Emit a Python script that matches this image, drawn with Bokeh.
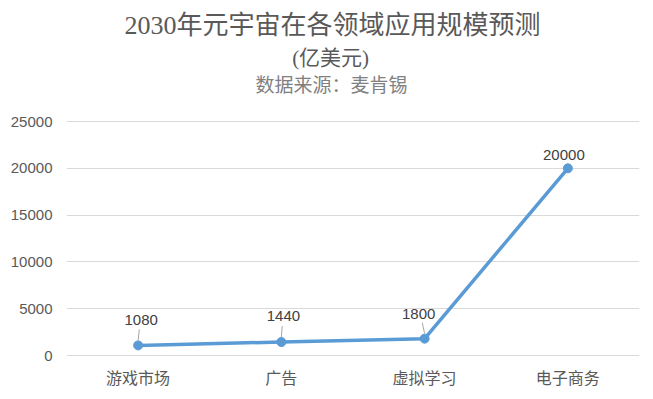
from bokeh.plotting import figure
from bokeh.layouts import column
from bokeh.models import Range1d, FixedTicker, ColumnDataSource
from bokeh.core.properties import value
from bokeh.embed import file_html
from bokeh.resources import INLINE

# ---- data ----
categories = ["游戏市场", "广告", "虚拟学习", "电子商务"]
values = [1080, 1440, 1800, 20000]
y_ticks = [0, 5000, 10000, 15000, 20000, 25000]
title_text = "2030年元宇宙在各领域应用规模预测"
unit_text = "(亿美元)"
source_text = "数据来源：麦肯锡"

# label offsets (px) for the data labels
label_dx = [3, 2, -6, -4]
label_dy = [-25, -26, -25, -13]

W, H = 653, 399
HT = 110                      # height of the heading strip
H2 = H - HT                   # height of the chart figure
BL, BR, BT, BB = 66, 14, 10, 43
frame_w = W - BL - BR
frame_h = H2 - BT - BB
ymax = 25000
pad = ymax / (frame_h - 2)    # one pixel of padding so edge gridlines show
xs = list(range(len(categories)))

# ---- heading strip (pixel coordinates, y downward) ----
t = figure(width=W, height=HT, output_backend="svg", toolbar_location=None,
           x_range=Range1d(0, W), y_range=Range1d(HT, 0),
           x_axis_location=None, y_axis_location=None,
           min_border_left=0, min_border_right=0, min_border_top=0, min_border_bottom=0,
           background_fill_color="white", border_fill_color="white")
t.grid.visible = False
t.outline_line_color = None
serif = "'Liberation Serif', 'Noto Sans CJK SC'"
t.text(x=[303], y=[24.5], text=[title_text], text_align="center", text_baseline="middle",
       text_color="#595959", text_font=value(serif), text_font_size="26px")
t.text(x=[301], y=[57.5], text=[unit_text], text_align="center", text_baseline="middle",
       text_color="#595959", text_font=value(serif), text_font_size="21px")
t.text(x=[302], y=[83], text=[source_text], text_align="center", text_baseline="middle",
       text_color="#808080", text_font=value("Noto Sans CJK SC"), text_font_size="19px")

# ---- chart ----
p = figure(width=W, height=H2, output_backend="svg", toolbar_location=None,
           x_range=Range1d(-0.5, len(categories) - 0.5), y_range=Range1d(-pad, ymax + pad),
           min_border_left=BL, min_border_right=BR, min_border_top=BT, min_border_bottom=BB,
           background_fill_color="white", border_fill_color="white")
p.outline_line_color = None

p.yaxis.ticker = FixedTicker(ticks=y_ticks)
p.xaxis.ticker = FixedTicker(ticks=xs)
p.xaxis.major_label_overrides = {i: c for i, c in zip(xs, categories)}
for ax in (p.xaxis[0], p.yaxis[0]):
    ax.axis_line_color = None
    ax.major_tick_line_color = None
    ax.minor_tick_line_color = None
    ax.major_tick_out = 0
    ax.major_tick_in = 0
    ax.minor_tick_out = 0
    ax.major_label_text_color = "#595959"
    ax.major_label_text_font = "Liberation Sans, Noto Sans CJK SC"
p.yaxis.major_label_text_font_size = "15px"
p.yaxis.major_label_standoff = 14
p.xaxis.major_label_text_font_size = "16px"
p.xaxis.major_label_standoff = 13
p.xgrid.grid_line_color = None
p.ygrid.ticker = FixedTicker(ticks=y_ticks)
p.ygrid.grid_line_color = "#d9d9d9"
p.ygrid.grid_line_width = 1

# leader lines (small grey ticks between labels and points)
upx = (ymax + 2 * pad) / frame_h
xpx = 1.0 / (frame_w / len(categories))
lead_x0, lead_y0, lead_x1, lead_y1 = [], [], [], []
for i, (x, v) in enumerate(zip(xs, values)):
    if i < 3:
        lead_x0.append(x + label_dx[i] * 0.4 * xpx)
        lead_y0.append(v + 16 * upx)
        lead_x1.append(x)
        lead_y1.append(v + 5 * upx)
p.segment(lead_x0, lead_y0, lead_x1, lead_y1, line_color="#a6a6a6", line_width=1)

src = ColumnDataSource(dict(x=xs, y=values, lbl=[str(v) for v in values],
                            dx=label_dx, dy=label_dy))
p.line("x", "y", source=src, line_color="#5B9BD5", line_width=3.5, line_join="round")
p.scatter("x", "y", source=src, size=9, fill_color="#5B9BD5", line_color="#5B9BD5")
p.text("x", "y", text="lbl", source=src, x_offset="dx", y_offset="dy",
       text_align="center", text_baseline="middle", text_color="#404040",
       text_font_size="15px", text_font=value("Liberation Sans"))

layout = column(t, p, spacing=0)
open("out.html", "w").write(file_html(layout, INLINE))
